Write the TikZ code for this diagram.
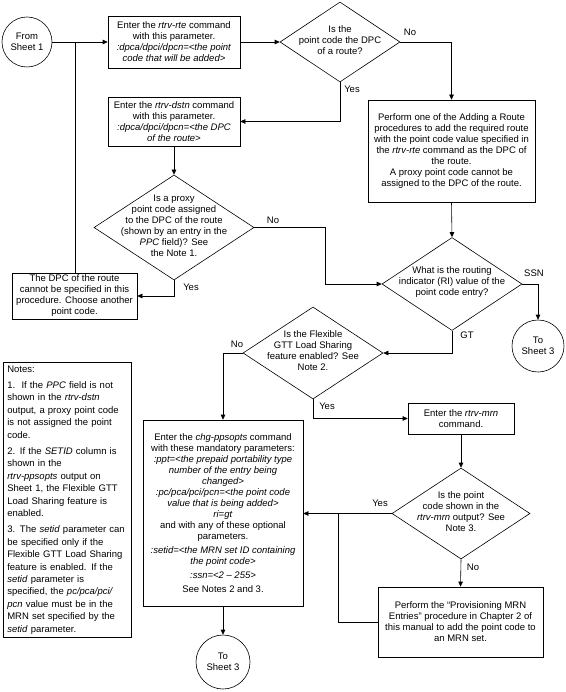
\documentclass[tikz,border=0pt]{standalone}
\usepackage{fontspec}
\setmainfont{Liberation Sans}
\usetikzlibrary{shapes.geometric,arrows.meta,calc}
\begin{document}
\begin{tikzpicture}[x=1pt,y=-1pt,
  every node/.style={font=\fontsize{9.5}{11}\selectfont},
  box/.style={draw, rectangle, align=center, inner sep=1pt},
  dia/.style={draw, diamond, inner sep=0pt},
  term/.style={draw, circle, align=center, inner sep=0pt},
  txt/.style={align=center, inner sep=0pt},
  lbl/.style={inner sep=0pt},
  arr/.style={-{Triangle[length=5pt,width=4.5pt]}},
  line width=0.6pt]
\useasboundingbox (0,0) rectangle (565,692);

% terminals
\node[term, minimum size=50pt] (c1) at (27,42) {From\\Sheet 1};
\node[term, minimum size=52pt] (c3) at (538,346) {To\\Sheet 3};
\node[term, minimum size=54pt] (c4) at (223,662) {To\\Sheet 3};

% boxes
\node[box, minimum width=132pt, minimum height=52pt] (b1) at (174,42)
  {Enter the \textit{rtrv-rte} command\\with this parameter.\\\textit{:dpca/dpci/dpcn=<the point}\\\textit{code that will be added>}};
\node[box, minimum width=132pt, minimum height=49pt] (b2) at (174,121.5)
  {Enter the \textit{rtrv-dstn} command\\with this parameter.\\\textit{:dpca/dpci/dpcn=<the DPC}\\\textit{of the route>}};
\node[box, minimum width=167pt, minimum height=102pt] (b3) at (451.5,151)
  {Perform one of the Adding a Route\\procedures to add the required route\\with the point code value specified in\\the \textit{rtrv-rte} command as the DPC of\\the route.\\A proxy point code cannot be\\assigned to the DPC of the route.};
\node[box, minimum width=125pt, minimum height=46pt] (b4) at (74.5,296)
  {The DPC of the route\\cannot be specified in this\\procedure. Choose another\\point code.};
\node[box, minimum width=160pt, minimum height=186pt] (b5) at (223,513)
  {Enter the \textit{chg-ppsopts} command\\with these mandatory parameters:\\\textit{:ppt=<the prepaid portability type}\\\textit{number of the entry being}\\\textit{changed>}\\\textit{:pc/pca/pci/pcn=<the point code}\\\textit{value that is being added>}\\\textit{ri=gt}\\and with any of these optional\\parameters.\\[3pt]\textit{:setid=<the MRN set ID containing}\\\textit{the point code>}\\[3pt]\textit{:ssn=<2 -- 255>}\\[3pt]See Notes 2 and 3.};
\node[box, minimum width=106pt, minimum height=31pt] (b6) at (461,418.5)
  {Enter the \textit{rtrv-mrn}\\command.};
\node[box, minimum width=165pt, minimum height=70pt] (b7) at (460.5,622)
  {Perform the “Provisioning MRN\\Entries” procedure in Chapter 2 of\\this manual to add the point code to\\an MRN set.};
\node[draw, rectangle, align=left, inner xsep=4pt, inner ysep=2pt, anchor=north west,
      minimum width=128pt, minimum height=275pt, text width=120pt,
      font=\fontsize{9.5}{12.4}\selectfont] (notes) at (3,362)
  {Notes:\\[4pt]
   1.\ \ If the \textit{PPC} field is not\\shown in the \textit{rtrv-dstn}\\output, a proxy point code\\is not assigned the point\\code.\\[4pt]
   2. If the \textit{SETID} column is\\shown in the\\\textit{rtrv-ppsopts} output on\\Sheet 1, the Flexible GTT\\Load Sharing feature is\\enabled.\\[4pt]
   3. The \textit{setid} parameter can\\be specified only if the\\Flexible GTT Load Sharing\\feature is enabled. If the\\\textit{setid} parameter is\\specified, the \textit{pc/pca/pci/}\\\textit{pcn} value must be in the\\MRN set specified by the\\\textit{setid} parameter.};

% diamonds
\node[dia, minimum width=120pt, minimum height=80pt] (d1) at (340,42) {};
\node[txt] (t1) at (340,40) {Is the\\point code the DPC\\of a route?};
\node[dia, minimum width=160pt, minimum height=105pt] (d2) at (174,227.5) {};
\node[txt] (t2) at (174,226) {Is a proxy\\point code assigned\\to the DPC of the route\\(shown by an entry in the\\\textit{PPC} field)? See\\the Note 1.};
\node[dia, minimum width=140pt, minimum height=93pt] (d3) at (452,284) {};
\node[txt] (t3) at (452,282) {What is the routing\\indicator (RI) value of the\\point code entry?};
\node[dia, minimum width=140pt, minimum height=92pt] (d4) at (313,353) {};
\node[txt] (t4) at (313,351) {Is the Flexible\\GTT Load Sharing\\feature enabled? See\\Note 2.};
\node[dia, minimum width=138pt, minimum height=91pt] (d5) at (461,513.5) {};
\node[txt] (t5) at (461,512) {Is the point\\code shown in the\\\textit{rtrv-mrn} output? See\\Note 3.};

% labels
\node[lbl] (l1) at (410,32) {No};
\node[lbl] (l2) at (352,89) {Yes};
\node[lbl] (l3) at (273,220) {No};
\node[lbl] (l4) at (191,287) {Yes};
\node[lbl] (l5) at (534,273) {SSN};
\node[lbl] (l6) at (467,335) {GT};
\node[lbl] (l7) at (237,344) {No};
\node[lbl] (l8) at (327,406) {Yes};
\node[lbl] (l9) at (380,503) {Yes};
\node[lbl] (l10) at (473,567) {No};

\coordinate (j1) at (75,42);
\coordinate (j2) at (325,227.5);
\coordinate (j3) at (338,513.5);

% connectors
\draw[arr] (c1.east) -- (b1.west);
\draw (b4.north -| j1) -- (j1);
\draw[arr] (b1.east) -- (d1.west);
\draw[arr] (d1.east) -| (b3.north);
\draw[arr] (d1.south) |- (b2.east);
\draw[arr] (b2.south) -- (d2.north);
\draw[arr] (d2.east) -- (j2) |- (d3.west);
\draw[arr] (d2.south) |- (b4.east);
\draw[arr] (b3.south) -- (d3.north);
\draw[arr] (d3.east) -| (c3.north);
\draw[arr] (d3.south) |- (d4.east);
\draw[arr] (d4.west) -| (b5.north);
\draw[arr] (d4.south) |- (b6.west);
\draw[arr] (b6.south) -- (d5.north);
\draw[arr] (d5.west) -- (d5.west -| b5.east);
\draw[arr] (d5.south) -- (b7.north);
\draw (b7.west) -| (j3);
\draw[arr] (b5.south) -- (c4.north);
\end{tikzpicture}
\end{document}
